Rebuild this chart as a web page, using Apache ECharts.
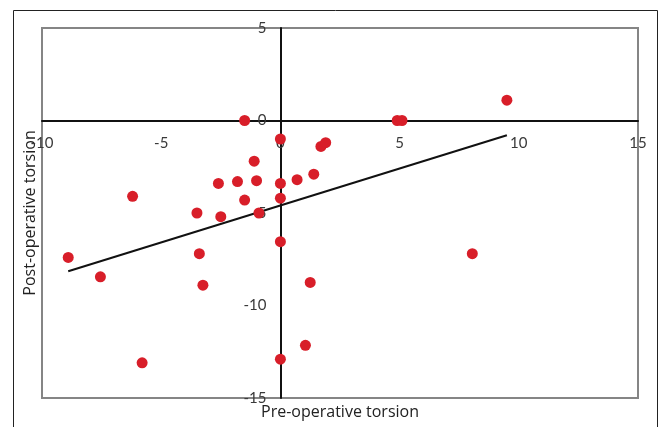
<!DOCTYPE html>
<html>
<head>
<meta charset="utf-8">
<script src="https://cdn.jsdelivr.net/npm/echarts@6/dist/echarts.min.js"></script>
<style>
  html, body { margin: 0; padding: 0; background: #fff; }
  #chart { width: 659px; height: 427px; }
</style>
</head>
<body>
<div id="chart"></div>
<script>
// pre-operative torsion (x) and post-operative torsion (y)
const preOp = [
  -1.5, 0, 1.7, 1.9, -1.1, -2.6, -1.8, -1.0, 0, 0.7,
  1.4, -6.2, -1.5, 0, -3.5, -2.5, -0.9, 4.9, 5.1, 9.5,
  0, -8.9, -3.4, -7.55, -3.25, 1.25, 1.05, 0, -5.8, 8.05
]
const postOp = [
  0, -1.0, -1.4, -1.2, -2.2, -3.4, -3.3, -3.25, -3.4, -3.2,
  -2.9, -4.1, -4.3, -4.2, -5.0, -5.2, -5.0, 0, 0, 1.1,
  -6.55, -7.4, -7.2, -8.45, -8.9, -8.75, -12.15, -12.9, -13.1, -7.2
]
// trend line end points
const trendX = [-8.9, 9.5]
const trendY = [-8.15, -0.8]

const xTicks = { min: -10, max: 15, step: 5 }
const yTicks = { min: -15, max: 5, step: 5 }

const font = 'Lato, "Open Sans", sans-serif'
const titleFont = '"Open Sans", Lato, sans-serif'

const gridBox = { left: 42, top: 28, right: 21, bottom: 29 }
const gridW = 659 - gridBox.left - gridBox.right
const gridH = 427 - gridBox.top - gridBox.bottom

// the axes cross at zero, so shift each axis (line + labels) onto the other's zero
const xAxisOffset = -gridH * (0 - yTicks.min) / (yTicks.max - yTicks.min)
const yAxisOffset = -gridW * (0 - xTicks.min) / (xTicks.max - xTicks.min)

const chart = echarts.init(document.getElementById('chart'))

const option = {
  animation: false,
  backgroundColor: '#fff',
  grid: {
    ...gridBox,
    show: true,
    borderColor: '#858585',
    borderWidth: 2,
    backgroundColor: 'transparent',
  },
  xAxis: {
    type: 'value',
    position: 'bottom',
    offset: xAxisOffset,
    min: xTicks.min,
    max: xTicks.max,
    interval: xTicks.step,
    axisLine: { onZero: false, lineStyle: { color: '#111', width: 2 } },
    axisTick: { show: false },
    splitLine: { show: false },
    axisLabel: {
      margin: 15,
      color: '#3a3a3a',
      fontSize: 15,
      fontFamily: font,
      showMinLabel: true,
      showMaxLabel: true,
    },
  },
  yAxis: {
    type: 'value',
    position: 'left',
    offset: yAxisOffset,
    min: yTicks.min,
    max: yTicks.max,
    interval: yTicks.step,
    axisLine: { onZero: false, lineStyle: { color: '#111', width: 2 } },
    axisTick: { show: false },
    splitLine: { show: false },
    axisLabel: {
      margin: 14,
      color: '#3a3a3a',
      fontSize: 15,
      fontFamily: font,
      showMinLabel: true,
      showMaxLabel: true,
    },
  },
  graphic: [
    {
      type: 'rect',
      shape: { x: 13.5, y: 10.5, width: 644, height: 430 },
      style: { fill: 'none', stroke: '#222', lineWidth: 1 },
      silent: true,
    },
    {
      type: 'text',
      x: 340,
      y: 412,
      style: {
        text: 'Pre-operative torsion',
        fill: '#222',
        font: '16px ' + titleFont,
        textAlign: 'center',
        textVerticalAlign: 'middle',
      },
    },
    {
      type: 'text',
      x: 30,
      y: 213,
      rotation: Math.PI / 2,
      style: {
        text: 'Post-operative torsion',
        fill: '#222',
        font: '16px ' + titleFont,
        textAlign: 'center',
        textVerticalAlign: 'middle',
      },
    },
  ],
  series: [
    {
      name: 'trend',
      type: 'line',
      data: trendX.map((x, i) => [x, trendY[i]]),
      symbol: 'none',
      lineStyle: { color: '#111', width: 2 },
      z: 2,
      silent: true,
    },
    {
      name: 'patients',
      type: 'scatter',
      data: preOp.map((x, i) => [x, postOp[i]]),
      symbolSize: 11,
      itemStyle: { color: '#d81e29', opacity: 1 },
      z: 3,
    },
  ],
}

chart.setOption(option)
</script>
</body>
</html>
